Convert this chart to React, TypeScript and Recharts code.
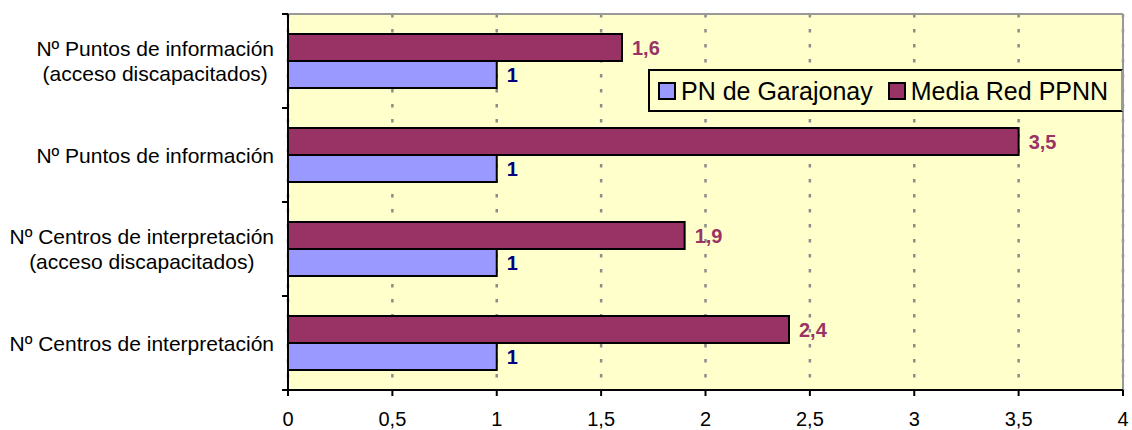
import React from 'react';
import {
  BarChart,
  Bar,
  XAxis,
  YAxis,
  CartesianGrid,
  Legend,
  LabelList,
  usePlotArea,
} from 'recharts';

const categories = [
  'Nº Puntos de información\n(acceso discapacitados)',
  'Nº Puntos de información',
  'Nº Centros de interpretación\n(acceso discapacitados)',
  'Nº Centros de interpretación',
];
const garajonay = [1, 1, 1, 1];
const mediaRed = [1.6, 3.5, 1.9, 2.4];
const xTicks = [0, 0.5, 1, 1.5, 2, 2.5, 3, 3.5, 4];
const seriesNames = { garajonay: 'PN de Garajonay', media: 'Media Red PPNN' };

const data = categories.map((name, i) => ({
  name,
  garajonay: garajonay[i],
  media: mediaRed[i],
}));

const FONT = '"Liberation Sans", Arial, sans-serif';
const fmt = (v: any) => String(v).replace('.', ',');

const CategoryTick = (props: any) => {
  const { x, y, payload } = props;
  const right = x - 6;
  return (
    <foreignObject x={0} y={y - 40} width={right} height={80}>
      <div
        style={{
          display: 'flex',
          justifyContent: 'flex-end',
          alignItems: 'center',
          height: '100%',
          width: '100%',
        }}
      >
        <div
          style={{
            textAlign: 'center',
            whiteSpace: 'pre-line',
            lineHeight: '25px',
            fontSize: 21,
            fontFamily: FONT,
            color: '#000',
          }}
        >
          {payload.value}
        </div>
      </div>
    </foreignObject>
  );
};

const Frame = () => {
  const area: any = usePlotArea();
  if (!area) return null;
  const { x, y, width, height } = area;
  const n = categories.length;
  return (
    <g>
      <line x1={x} y1={y} x2={x + width} y2={y} stroke="#999999" strokeWidth={2} />
      <line x1={x + width} y1={y} x2={x + width} y2={y + height} stroke="#999999" strokeWidth={2} />
      {Array.from({ length: n + 1 }).map((_, i) => (
        <line
          key={i}
          x1={x - 6}
          x2={x}
          y1={y + (i * height) / n}
          y2={y + (i * height) / n}
          stroke="#000"
          strokeWidth={2}
        />
      ))}
    </g>
  );
};

const LegendBox = () => {
  const items = [
    { label: seriesNames.garajonay, color: '#9999FF' },
    { label: seriesNames.media, color: '#993366' },
  ];
  return (
    <div
      style={{
        boxSizing: 'border-box',
        width: 475,
        height: 43,
        background: '#FFFFCC',
        borderTop: '2px solid #000',
        borderLeft: '2px solid #000',
        borderBottom: '2px solid #000',
        borderRight: '2px solid #999',
        display: 'flex',
        flexWrap: 'nowrap',
        alignItems: 'center',
        paddingLeft: 8,
        fontFamily: FONT,
        fontSize: 25,
        color: '#000',
        whiteSpace: 'nowrap',
        overflow: 'hidden',
      }}
    >
      {items.map((it, i) => (
        <div
          key={i}
          style={{ display: 'flex', alignItems: 'center', marginRight: 15, flexShrink: 0, whiteSpace: 'nowrap' }}
        >
          <span
            style={{
              display: 'inline-block',
              boxSizing: 'border-box',
              width: 18,
              height: 18,
              background: it.color,
              border: '2px solid #000',
              marginRight: 5,
              flexShrink: 0,
            }}
          />
          <span style={{ lineHeight: '28px', whiteSpace: 'nowrap' }}>{it.label}</span>
        </div>
      ))}
    </div>
  );
};

export default function App() {
  return (
    <div style={{ position: 'absolute', left: 0, top: 0, width: 1132, height: 430, background: '#fff' }}>
      <BarChart
        width={1132}
        height={430}
        data={data}
        layout="vertical"
        margin={{ top: 14, right: 9, bottom: 0, left: 0 }}
        barGap={0}
        barSize={27}
      >
        <CartesianGrid
          horizontal={false}
          vertical={true}
          fill="#FFFFCC"
          stroke="#8c8c8c"
          strokeWidth={2.5}
          strokeDasharray="3.5 11.5"
        />
        <XAxis
          type="number"
          domain={[0, 4]}
          ticks={xTicks}
          tickFormatter={fmt}
          height={40}
          axisLine={{ stroke: '#000', strokeWidth: 2 }}
          tickLine={{ stroke: '#000', strokeWidth: 2 }}
          tickSize={6}
          tickMargin={16}
          tick={{ fill: '#000', fontSize: 20, fontFamily: FONT }}
          interval={0}
        />
        <YAxis
          type="category"
          dataKey="name"
          width={288}
          axisLine={{ stroke: '#000', strokeWidth: 2 }}
          tickLine={false}
          tickSize={6}
          tickMargin={2}
          tick={<CategoryTick />}
          interval={0}
        />
        <Legend
          layout="horizontal"
          verticalAlign="middle"
          align="center"
          content={() => <LegendBox />}
          wrapperStyle={{ position: 'absolute', left: 648, top: 69, width: 475, height: 43 }}
        />
        <Bar
          dataKey="media"
          name={seriesNames.media}
          fill="#993366"
          stroke="#000"
          strokeWidth={2}
          isAnimationActive={false}
        >
          <LabelList
            dataKey="media"
            position="right"
            offset={10}
            formatter={fmt}
            fill="#993366"
            style={{ fontSize: 20, fontWeight: 'bold', fontFamily: FONT }}
          />
        </Bar>
        <Bar
          dataKey="garajonay"
          name={seriesNames.garajonay}
          fill="#9999FF"
          stroke="#000"
          strokeWidth={2}
          isAnimationActive={false}
        >
          <LabelList
            dataKey="garajonay"
            position="right"
            offset={10}
            formatter={fmt}
            fill="#000080"
            style={{ fontSize: 20, fontWeight: 'bold', fontFamily: FONT }}
          />
        </Bar>
        <Frame />
      </BarChart>
    </div>
  );
}
